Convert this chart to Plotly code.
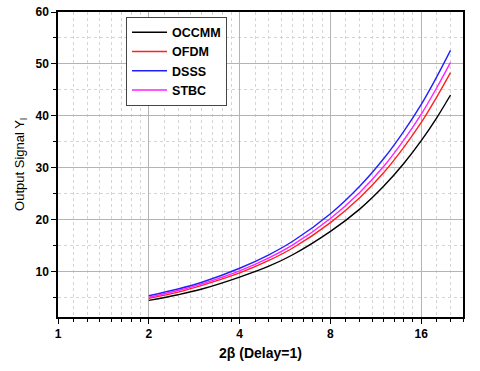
import plotly.graph_objects as go
import math

x = [2, 2.5, 3, 4, 5, 6, 8, 10, 12, 14, 16, 18, 20]
occmm = [4.4, 5.5, 6.6, 8.9, 11.0, 13.2, 17.7, 22.0, 26.4, 30.8, 35.2, 39.6, 44.0]
ofdm = [4.8, 6.0, 7.3, 9.7, 12.1, 14.5, 19.4, 24.2, 29.0, 33.9, 38.7, 43.6, 48.3]
dsss = [5.3, 6.6, 7.9, 10.6, 13.2, 15.8, 21.1, 26.4, 31.7, 37.0, 42.2, 47.5, 52.6]
stbc = [5.0, 6.3, 7.6, 10.1, 12.6, 15.1, 20.2, 25.2, 30.2, 35.3, 40.3, 45.4, 50.3]

x_ticks = [1, 2, 4, 8, 16]
x_minor = [1 + 0.125 * i for i in range(1, 8)] + [2 + 0.25 * i for i in range(1, 8)] \
    + [4 + 0.5 * i for i in range(1, 8)] + [8 + i for i in range(1, 8)] + [18, 20, 22]

fig = go.Figure()
for name, ys, col in [("OCCMM", occmm, "#000000"), ("OFDM", ofdm, "#ff2020"),
                      ("DSSS", dsss, "#2020ff"), ("STBC", stbc, "#ff20ff")]:
    fig.add_trace(go.Scatter(x=x, y=ys, mode="lines", name=name,
                             line=dict(color=col, width=1.4, shape="spline")))

fig.update_layout(
    width=480, height=371,
    margin=dict(l=58, r=17, t=12, b=54),
    paper_bgcolor="white", plot_bgcolor="white",
    font=dict(family="Liberation Sans, Arial", color="black"),
    legend=dict(x=0.168, y=0.985, xanchor="left", yanchor="top",
                bgcolor="white", bordercolor="#444", borderwidth=1,
                font=dict(size=12.5, family="Liberation Sans, Arial", weight="bold"),
                itemwidth=35, tracegroupgap=0),
    xaxis=dict(type="log", range=[0, math.log10(22)], automargin=False,
               tickvals=x_ticks, ticktext=[str(v) for v in x_ticks],
               tickfont=dict(size=12, weight="bold"),
               showline=True, linecolor="black", linewidth=1.5, mirror=True,
               ticks="outside", ticklen=5, tickcolor="black",
               showgrid=True, gridcolor="#b4b4b4", gridwidth=1,
               minor=dict(tickvals=x_minor, ticks="outside", ticklen=3, tickcolor="black",
                          showgrid=True, gridcolor="#d4d4d4", griddash="dot"),
               title=dict(text="2β (Delay=1)", font=dict(size=14, weight="bold"), standoff=8),
               zeroline=False),
    yaxis=dict(range=[1.2, 60], tickvals=[10, 20, 30, 40, 50, 60], automargin=False,
               tickfont=dict(size=12, weight="bold"),
               showline=True, linecolor="black", linewidth=1.5, mirror=True,
               ticks="outside", ticklen=5, tickcolor="black",
               showgrid=True, gridcolor="#b4b4b4", gridwidth=1,
               minor=dict(tickvals=[5, 15, 25, 35, 45, 55], ticks="outside", ticklen=3,
                          tickcolor="black", showgrid=True, gridcolor="#d4d4d4", griddash="dot"),
               title=dict(text="Output Signal Y<sub>l</sub>", font=dict(size=13), standoff=8),
               zeroline=False),
)

# drop the page's default body margin so the figure sits at the window's corner
fig.write_html("out.html", config={"displayModeBar": False},
               post_script="document.body.style.margin='0';")
